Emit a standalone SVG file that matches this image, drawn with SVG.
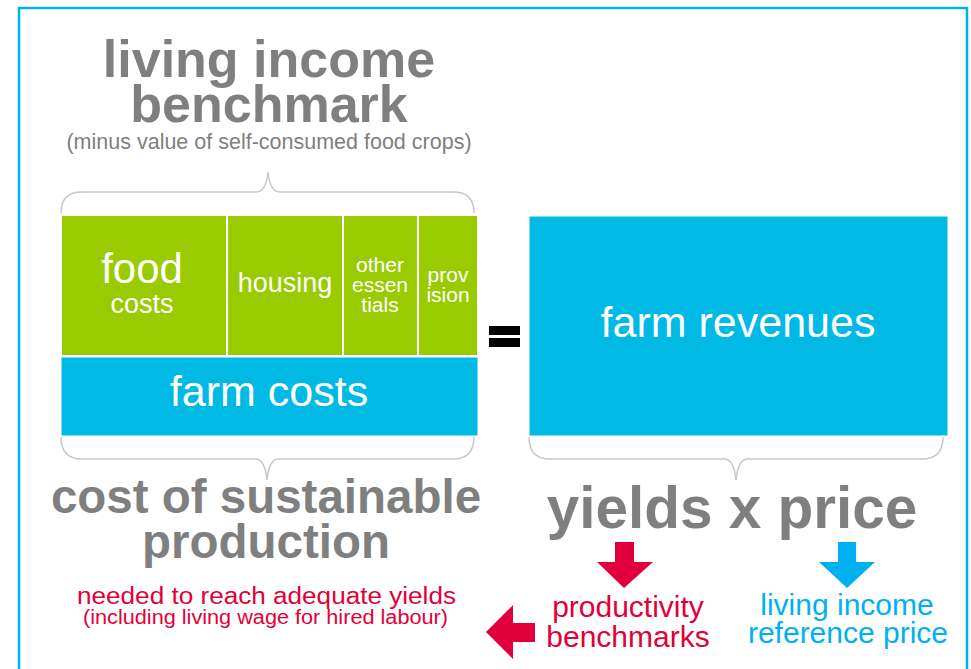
<svg xmlns="http://www.w3.org/2000/svg" width="971" height="669" viewBox="0 0 971 669">
<style>
.t{font-family:"Liberation Sans",Arial,sans-serif;}
.g{fill:#7f7f7f;font-weight:bold;}
.w{fill:#ffffff;}
.r{fill:#e2003a;}
.b{fill:#00b0f0;}
.brace{fill:none;stroke:#c8c8c8;stroke-width:1.5;}
.green{fill:#99cc00;stroke:#ffffff;stroke-width:2;}
.blue{fill:#00b9e4;stroke:#ffffff;stroke-width:1;}
</style>
<rect x="0" y="0" width="971" height="669" fill="#ffffff"/>
<rect x="19" y="8" width="948" height="700" fill="none" stroke="#00b0f0" stroke-width="2.5"/>

<g id="title">
<text class="t g" x="269" y="77" font-size="52" text-anchor="middle">living income</text>
<text class="t g" x="269" y="122" font-size="52" text-anchor="middle">benchmark</text>
<text class="t" x="269" y="149" font-size="21.5" fill="#7f7f7f" text-anchor="middle">(minus value of self-consumed food crops)</text>
</g>

<g id="connectors">
<path class="brace" d="M61,213 Q61,192 82,192 L256,192 Q266,192 268,172 Q270,192 280,192 L453,192 Q474,192 474,213"/>
<path class="brace" d="M61,437 Q61,459 82,459 L255,459 Q265,459 267,480 Q269,459 279,459 L453,459 Q474,459 474,437"/>
<path class="brace" d="M529,437 Q529,459 550,459 L724,459 Q734,459 736,480 Q738,459 748,459 L922,459 Q943,459 943,437"/>
<polygon fill="#e2003a" points="615,542 634,542 634,562 653,562 624,588 597,562 615,562"/>
<polygon fill="#00b0f0" points="838,542 856,542 856,562 875,562 847,588 819,562 838,562"/>
<polygon fill="#e2003a" points="486,632 513,605 513,623 535,623 535,642 513,642 513,659"/>
</g>

<g id="food">
<rect class="green" x="61" y="215" width="166" height="141"/>
<text class="t w" x="142" y="283" font-size="42" text-anchor="middle">food</text>
<text class="t w" x="142" y="313" font-size="27" text-anchor="middle">costs</text>
</g>
<g id="housing">
<rect class="green" x="227" y="215" width="116" height="141"/>
<text class="t w" x="285" y="292" font-size="27" text-anchor="middle">housing</text>
</g>
<g id="other">
<rect class="green" x="343" y="215" width="75" height="141"/>
<text class="t w" x="380" y="272" font-size="21" text-anchor="middle">other</text>
<text class="t w" x="380" y="292" font-size="21" text-anchor="middle">essen</text>
<text class="t w" x="380" y="312" font-size="21" text-anchor="middle">tials</text>
</g>
<g id="provision">
<rect class="green" x="418" y="215" width="60" height="141"/>
<text class="t w" x="448" y="282" font-size="21" text-anchor="middle">prov</text>
<text class="t w" x="448" y="302" font-size="21" text-anchor="middle">ision</text>
</g>
<g id="farmcosts">
<rect class="blue" x="61" y="357" width="417" height="79"/>
<text class="t w" x="269" y="406" font-size="43" text-anchor="middle">farm costs</text>
</g>

<g id="equals">
<rect x="489" y="326" width="31" height="9" fill="#000000"/>
<rect x="489" y="338" width="31" height="9" fill="#000000"/>
</g>

<g id="farmrevenues">
<rect class="blue" x="529" y="216" width="419" height="220"/>
<text class="t w" x="738" y="337" font-size="43" text-anchor="middle">farm revenues</text>
</g>

<g id="cost">
<text class="t g" x="266" y="513" font-size="47.5" text-anchor="middle">cost of sustainable</text>
<text class="t g" x="266" y="558" font-size="47.5" text-anchor="middle">production</text>
<text class="t r" x="77" y="604" font-size="23" textLength="379" lengthAdjust="spacingAndGlyphs">needed to reach adequate yields</text>
<text class="t r" x="83" y="624" font-size="20" textLength="365" lengthAdjust="spacingAndGlyphs">(including living wage for hired labour)</text>
</g>

<g id="yields">
<text class="t g" x="732" y="528" font-size="58.5" text-anchor="middle">yields x price</text>
</g>

<g id="productivity">
<text class="t r" x="628" y="617" font-size="30" text-anchor="middle">productivity</text>
<text class="t r" x="628" y="647" font-size="30" text-anchor="middle">benchmarks</text>
</g>

<g id="refprice">
<text class="t b" x="847" y="615" font-size="30" text-anchor="middle">living income</text>
<text class="t b" x="848" y="643" font-size="30" text-anchor="middle">reference price</text>
</g>
</svg>
